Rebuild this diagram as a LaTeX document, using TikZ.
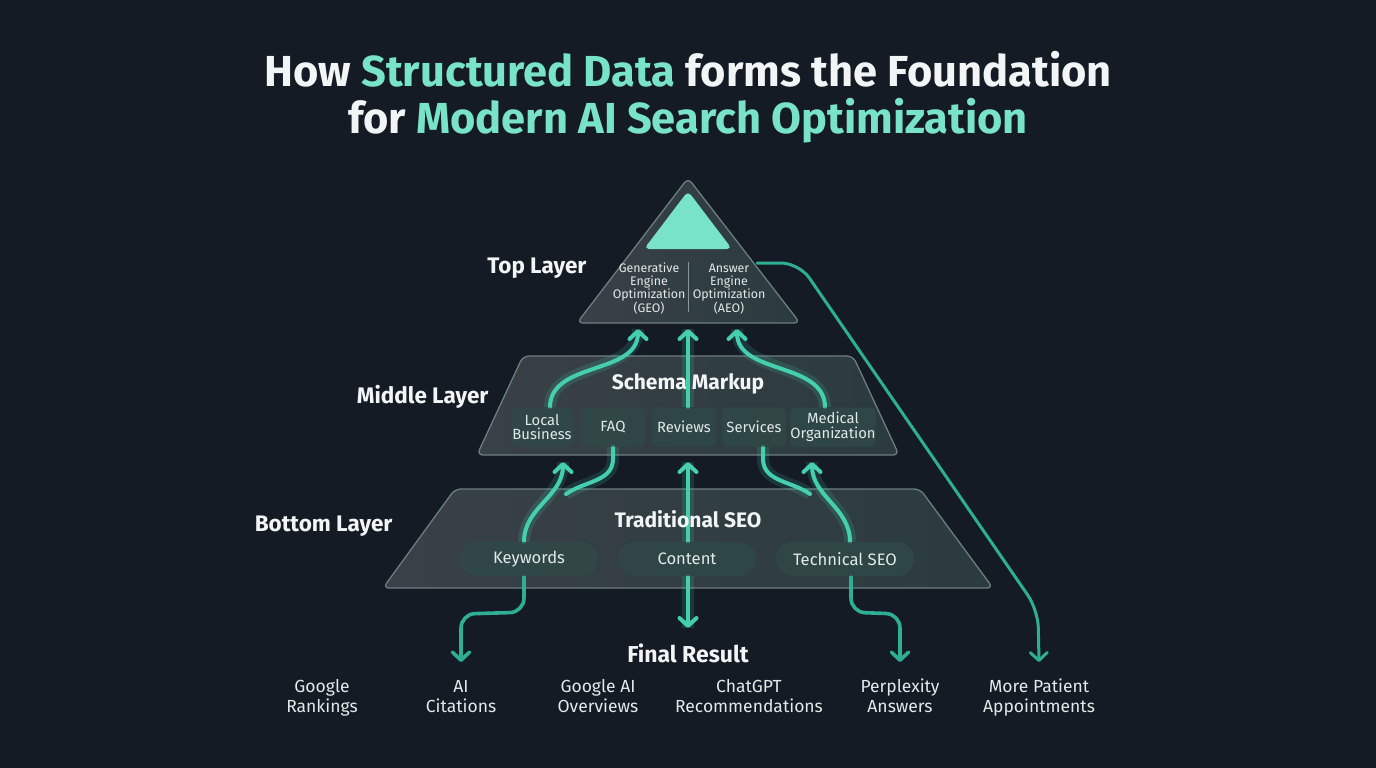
\documentclass[tikz,border=0pt]{standalone}
\usepackage{fontspec}
\setmainfont{Fira Sans}
\usetikzlibrary{arrows.meta}
\definecolor{bgc}{HTML}{151B25}
\definecolor{mint}{HTML}{78E3C7}
\definecolor{flowc}{HTML}{45CFAE}
\definecolor{flowd}{HTML}{2EAE92}
\definecolor{txt}{HTML}{F2F5F5}
\definecolor{txtsoft}{HTML}{E2E9E9}
\definecolor{layerfillA}{HTML}{3C454A}
\definecolor{layerfillB}{HTML}{2E3E40}
\definecolor{layeredge}{HTML}{6C7E80}
\definecolor{boxfill}{HTML}{2F4A48}
\pgfdeclarelayer{bgl}
\pgfdeclarelayer{mid}
\pgfsetlayers{bgl,mid,main}
\begin{document}
\begin{tikzpicture}[x=1pt,y=-1pt,
  layershape/.style={draw=layeredge, line width=1.3pt, rounded corners=6pt, left color=layerfillA, right color=layerfillB, fill opacity=0.92},
  layerlbl/.style={anchor=east, text=txt, font=\fontsize{22.5}{26}\selectfont\bfseries},
  headlbl/.style={text=txt, font=\fontsize{21}{24}\selectfont\bfseries},
  smallbox/.style={fill=boxfill, fill opacity=0.75, text opacity=1, rounded corners=5pt, minimum height=39pt, inner sep=0pt, align=center, text=txtsoft, font=\fontsize{14.8}{15.5}\selectfont},
  pill/.style={fill=boxfill, fill opacity=0.75, text opacity=1, rounded corners=17pt, minimum height=34pt, minimum width=138pt, inner sep=0pt, text=txtsoft, font=\fontsize{16.6}{18}\selectfont},
  outlbl/.style={align=center, text=txtsoft, font=\fontsize{17.5}{20}\selectfont},
  toptxt/.style={align=center, text=txtsoft, font=\fontsize{12.4}{13}\selectfont},
  flow/.style={draw=flowc, line width=4pt, line cap=round, preaction={draw=flowc, -, line width=12pt, opacity=0.16}},
  flowdn/.style={draw=flowd, line width=3.6pt, line cap=round},
  tip/.style={-{Straight Barb[round,length=8pt,width=17pt]}}
]
\begin{pgfonlayer}{bgl}
\fill[bgc] (0,0) rectangle (1376,768);
\end{pgfonlayer}
\useasboundingbox (0,0) rectangle (1376,768);

% Title
\node[text=txt, font=\fontsize{43.4}{47}\selectfont\bfseries, align=center] (title) at (688,97)
  {How {\color{mint}Structured Data} forms the Foundation\\for {\color{mint}Modern AI Search Optimization}};

% Layer shapes
\begin{pgfonlayer}{bgl}
\path[layershape] (688,178) -- (800,323) -- (577,323) -- cycle;
\fill[mint, rounded corners=5pt] (688,191) -- (732,249) -- (644,249) -- cycle;
\draw[layeredge!80, line width=1pt] (688,262) -- (688,312);
\path[layershape] (523,356) -- (853,356) -- (899,455) -- (477,455) -- cycle;
\path[layershape] (455,489) -- (920,489) -- (993,588) -- (383,588) -- cycle;
\end{pgfonlayer}

% Top layer texts
\node[toptxt] (geo) at (649,289) {Generative\\Engine\\Optimization\\(GEO)};
\node[toptxt] (aeo) at (729,289) {Answer\\Engine\\Optimization\\(AEO)};

% Layer labels
\node[layerlbl] (ltop) at (590,268) {Top Layer};
\node[layerlbl] (lmid) at (492,397) {Middle Layer};
\node[layerlbl] (lbot) at (396,526) {Bottom Layer};

% Middle layer
\node[headlbl] (schema) at (688,384) {Schema Markup};
\node[smallbox, minimum width=62pt] (lb) at (542,427) {Local\\[-1pt]Business};
\node[smallbox, minimum width=64pt] (faq) at (613,427) {FAQ};
\node[smallbox, minimum width=64pt] (rev) at (684,427) {Reviews};
\node[smallbox, minimum width=64pt] (srv) at (754,427) {Services};
\node[smallbox, minimum width=82pt] (med) at (833,427) {Medical\\[-1pt]Organization};

% Bottom layer
\node[headlbl] (trad) at (688,519) {Traditional SEO};
\node[pill] (kw) at (529,559) {Keywords};
\node[pill] (cont) at (687,559) {Content};
\node[pill] (tech) at (845,559) {Technical SEO};

% Results
\node[headlbl, font=\fontsize{23}{26}\selectfont\bfseries] (final) at (688,653) {Final Result};
\node[outlbl] (o1) at (322,698) {\strut Google\\\strut Rankings};
\node[outlbl] (o2) at (461,698) {\strut AI\\\strut Citations};
\node[outlbl] (o3) at (598,698) {\strut Google AI\\\strut Overviews};
\node[outlbl] (o4) at (749,698) {\strut ChatGPT\\\strut Recommendations};
\node[outlbl] (o5) at (900,698) {\strut Perplexity\\\strut Answers};
\node[outlbl] (o6) at (1039,698) {\strut More Patient\\\strut Appointments};

% endpoints
\coordinate (tGEO) at (638,329);
\coordinate (tMID) at (688,329);
\coordinate (tAEO) at (737,329);
\coordinate (mLB) at (563,462);
\coordinate (mMID) at (688,462);
\coordinate (mMED) at (812,462);
\coordinate (jL) at (566,494);
\coordinate (jR) at (810,494);
\coordinate (topR) at (757,263);
\coordinate (dL) at (461,662);
\coordinate (dC) at (688,628);
\coordinate (dR) at (900,662);
\coordinate (dF) at (1039,662);

\begin{pgfonlayer}{mid}
% middle -> top
\draw[flow, tip] ([xshift=8pt]lb.north) to[out=90,in=-90] (tGEO);
\draw[flow, tip] (rev.north -| tMID) -- (tMID);
\draw[flow, tip] ([xshift=-8pt]med.north) to[out=90,in=-90] (tAEO);
% bottom -> middle
\draw[flow, tip] ([xshift=-5pt]kw.north) to[out=90,in=-90] (mLB);
\draw[flow] (faq.south) -- ++(0,12) to[out=-90,in=35] (jL);
\draw[flow, tip] (cont.north -| mMID) -- (mMID);
\draw[flow, tip] ([xshift=5pt]tech.north) to[out=90,in=-90] (mMED);
\draw[flow] ([xshift=9pt]srv.south) -- ++(0,12) to[out=-90,in=145] (jR);
% downward
\draw[flowdn, tip, rounded corners=14pt] ([xshift=-5pt]kw.south) -- ++(0,36) -- (dL |- 0,614) -- (dL);
\draw[flow, tip] (cont.south -| dC) -- (dC);
\draw[flowdn, tip, rounded corners=14pt] ([xshift=6pt]tech.south) -- ++(0,36) -- (dR |- 0,614) -- (dR);
\draw[flowdn, line width=3pt, tip, rounded corners=18pt] (topR) -- (799,263) -- (1038,610) -- (dF);
\end{pgfonlayer}
\end{tikzpicture}
\end{document}
